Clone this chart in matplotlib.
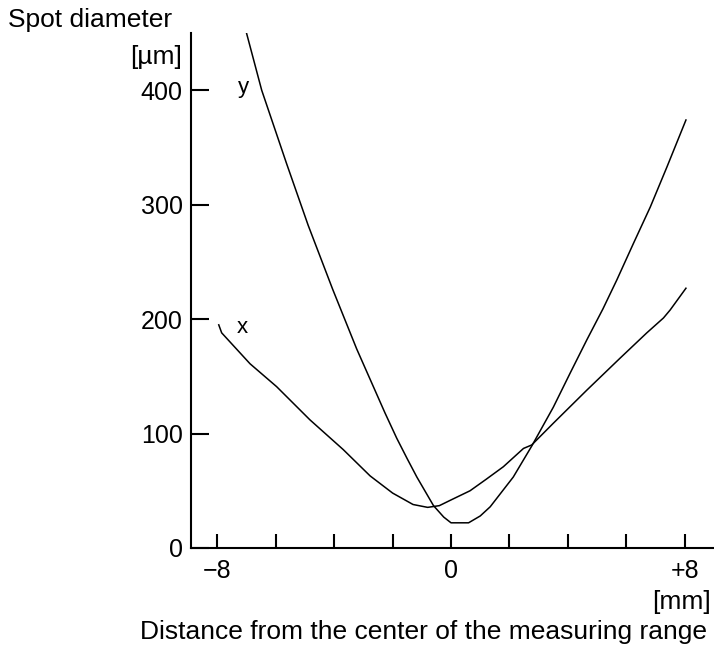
import matplotlib
matplotlib.use("Agg")
import matplotlib.pyplot as plt

plt.rcParams['font.family'] = ['Liberation Sans', 'DejaVu Sans']

# spot diameter along y (steep curve)
y_pos = [-7.0, -6.48, -5.63, -4.89, -4.05, -3.23, -2.26, -1.86, -1.5, -1.17, -0.6, -0.25,
         0.0, 0.6, 1.0, 1.34, 2.13, 2.76, 3.5, 4.08, 4.65, 5.2, 5.67, 6.24, 6.82, 7.39, 8.04]
y_diam = [450, 400, 336, 282, 226, 174, 118, 96, 78, 62, 37, 27,
          22, 22, 28, 36, 62, 89, 123, 153, 182, 209, 234, 266, 298, 333, 374]

# spot diameter along x (flatter curve)
x_pos = [-7.95, -7.85, -6.88, -5.97, -4.83, -3.69, -2.77, -2.0, -1.3, -0.8, -0.4, 0.0,
         0.65, 1.2, 1.79, 2.48, 2.76, 3.5, 4.65, 5.79, 6.7, 7.27, 7.5, 8.04]
x_diam = [195, 188, 161, 141, 112, 86, 63, 48, 38, 35.5, 37, 42,
          50, 60, 71, 87, 90, 109, 138, 166, 188, 201, 208, 227]

x_ticks = [-8, -6, -4, -2, 0, 2, 4, 6, 8]
x_ticklabels = ['\u22128', '', '', '', '0', '', '', '', '+8']
y_ticks = [0, 100, 200, 300, 400]

fig = plt.figure(figsize=(7.14, 6.45), dpi=100)
ax = fig.add_axes([0.2675, 0.1504, 0.7325, 0.7984])

ax.plot(y_pos, y_diam, color='black', lw=1.1)
ax.plot(x_pos, x_diam, color='black', lw=1.1)

ax.text(-7.12, 402, 'y', fontsize=16, ha='center', va='center')
ax.text(-7.16, 193, 'x', fontsize=16, ha='center', va='center')

ax.set_xlim(-8.9, 9.0)
ax.set_ylim(0, 450)
ax.set_xticks(x_ticks)
ax.set_xticklabels(x_ticklabels)
ax.set_yticks(y_ticks)

for s in ['top', 'right']:
    ax.spines[s].set_visible(False)
for s in ['left', 'bottom']:
    ax.spines[s].set_linewidth(1.5)

ax.tick_params(axis='x', direction='in', length=10, width=1.5, pad=8, labelsize=18)
ax.tick_params(axis='y', direction='in', length=13, width=1.5, pad=6, labelsize=18)

fig.text(8 / 714, 1 - 20 / 645, 'Spot diameter', fontsize=19, ha='left', va='center')
fig.text(182 / 714, 1 - 57 / 645, '[\u00b5m]', fontsize=19, ha='right', va='center')
fig.text(711 / 714, 1 - 602 / 645, '[mm]', fontsize=19, ha='right', va='center')
fig.text(707 / 714, 1 - 632 / 645, 'Distance from the center of the measuring range',
         fontsize=19, ha='right', va='center')

fig.savefig('out.png', dpi=100)
